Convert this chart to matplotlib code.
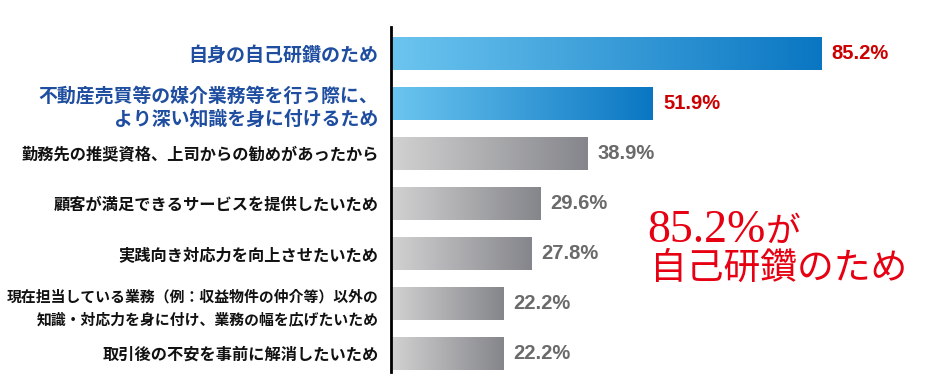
import numpy as np
import matplotlib
matplotlib.use("Agg")
import matplotlib.pyplot as plt
from matplotlib.colors import LinearSegmentedColormap

plt.rcParams['font.family'] = ['Noto Sans CJK JP', 'DejaVu Sans']

categories = [
    "自身の自己研鑽のため",
    "不動産売買等の媒介業務等を行う際に、\nより深い知識を身に付けるため",
    "勤務先の推奨資格、上司からの勧めがあったから",
    "顧客が満足できるサービスを提供したいため",
    "実践向き対応力を向上させたいため",
    "現在担当している業務（例：収益物件の仲介等）以外の\n知識・対応力を身に付け、業務の幅を広げたいため",
    "取引後の不安を事前に解消したいため",
]
values = [85.2, 51.9, 38.9, 29.6, 27.8, 22.2, 22.2]
highlight = [True, True, False, False, False, False, False]
label_sizes = [13.7, 13.6, 11.7, 11.7, 11.7, 10.7, 11.7]

W, H = 946, 390
fig = plt.figure(figsize=(W / 100, H / 100), dpi=100)
ax_left, ax_right = 391, 946
ax_top, ax_bot = 27, 372
ax = fig.add_axes([ax_left / W, 1 - ax_bot / H, (ax_right - ax_left) / W, (ax_bot - ax_top) / H])

xmax = (ax_right - ax_left) / 5.047
ymin, ymax = -0.53, 6.37

blue_cmap = LinearSegmentedColormap.from_list("b", ["#6cc5ef", "#0a76c2"])
gray_cmap = LinearSegmentedColormap.from_list("g", ["#d2d2d2", "#85868b"])
grad = np.linspace(0, 1, 256).reshape(1, -1)
bh = 0.66
for i, (v, hl) in enumerate(zip(values, highlight)):
    cmap = blue_cmap if hl else gray_cmap
    ax.imshow(grad, cmap=cmap, aspect='auto', extent=(0, v, i + bh / 2, i - bh / 2),
              interpolation='bicubic', zorder=2)
    ax.text(v + 2.0, i, f"{v:.1f}%", va='center', ha='left',
            fontsize=14.5, fontweight='bold',
            color="#cc0000" if hl else "#6a6a6a",
            family=['Liberation Sans', 'DejaVu Sans'], zorder=3)

ax.set_xlim(0, xmax)
ax.set_ylim(ymax, ymin)
ax.set_yticks(range(len(categories)))
ax.set_yticklabels(categories)
for lab, hl, fs in zip(ax.get_yticklabels(), highlight, label_sizes):
    lab.set_fontweight('bold')
    lab.set_linespacing(1.3 if hl else 1.45)
    lab.set_fontsize(fs)
    lab.set_color("#1f4ea0" if hl else "#111111")
ax.tick_params(axis='y', length=0, pad=9)
ax.set_xticks([])
for s in ['top', 'right', 'bottom']:
    ax.spines[s].set_visible(False)
ax.spines['left'].set_linewidth(2)
ax.spines['left'].set_color('black')

red = "#e60012"
t1 = fig.text(647 / W, 1 - 242 / H, "85.2%", fontsize=33, color=red,
              family=['Liberation Serif', 'DejaVu Serif'], va='baseline', ha='left')
fig.canvas.draw()
bb = t1.get_window_extent()
fig.text(bb.x1 / W, 1 - 242 / H, "が", fontsize=25, color=red, va='baseline', ha='left')
fig.text(650 / W, 1 - 279 / H, "自己研鑽のため", fontsize=26.5, color=red, va='baseline', ha='left')

fig.savefig("out.png", dpi=100)
